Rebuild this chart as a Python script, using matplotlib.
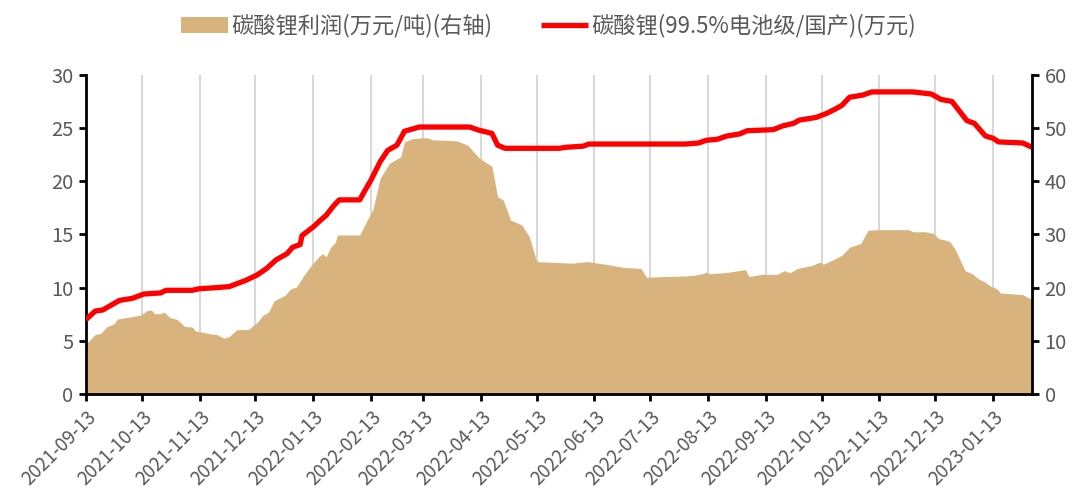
import matplotlib
matplotlib.use("Agg")
import matplotlib.pyplot as plt
import matplotlib.dates as mdates
import pandas as pd

plt.rcParams['font.family'] = ['Noto Sans CJK SC', 'DejaVu Sans']

# lithium carbonate price (万元/吨), read on the right axis
price_dates = ["2021-09-13", "2021-09-18", "2021-09-22", "2021-09-26", "2021-10-01", "2021-10-08",
               "2021-10-14", "2021-10-23", "2021-10-26", "2021-11-09", "2021-11-13", "2021-11-22",
               "2021-11-29", "2021-12-08", "2021-12-14", "2021-12-19", "2021-12-24", "2021-12-30",
               "2022-01-02", "2022-01-06", "2022-01-07", "2022-01-13", "2022-01-17", "2022-01-20",
               "2022-01-24", "2022-01-27", "2022-02-07", "2022-02-10", "2022-02-13", "2022-02-18",
               "2022-02-22", "2022-02-27", "2022-03-03", "2022-03-11", "2022-04-07", "2022-04-12",
               "2022-04-19", "2022-04-22", "2022-04-26", "2022-05-25", "2022-05-29", "2022-06-07",
               "2022-06-10", "2022-06-21", "2022-08-01", "2022-08-08", "2022-08-12", "2022-08-18",
               "2022-08-23", "2022-08-30", "2022-09-03", "2022-09-17", "2022-09-22", "2022-09-28",
               "2022-10-01", "2022-10-10", "2022-10-16", "2022-10-21", "2022-10-24", "2022-10-28",
               "2022-11-04", "2022-11-09", "2022-12-01", "2022-12-11", "2022-12-16", "2022-12-22",
               "2022-12-30", "2023-01-03", "2023-01-09", "2023-01-13", "2023-01-16", "2023-01-29",
               "2023-02-03"]
price = [14.0, 15.6, 15.8, 16.6, 17.6, 18.0, 18.8, 19.0, 19.5, 19.5, 19.8, 20.0,
         20.2, 21.4, 22.4, 23.6, 25.2, 26.4, 27.6, 28.1, 29.8, 31.4, 32.7, 33.6,
         35.4, 36.5, 36.5, 38.4, 40.2, 43.7, 45.8, 46.8, 49.4, 50.2, 50.2, 49.6,
         49.0, 46.8, 46.2, 46.2, 46.4, 46.6, 47.0, 47.0, 47.0, 47.2, 47.7, 47.9,
         48.5, 48.9, 49.5, 49.7, 50.4, 50.9, 51.5, 52.0, 52.8, 53.7, 54.3, 55.8,
         56.2, 56.8, 56.8, 56.4, 55.4, 55.0, 51.4, 50.9, 48.5, 48.1, 47.4, 47.2,
         46.4]

# lithium carbonate profit (万元/吨), read on the left axis
profit_dates = ["2021-09-13", "2021-09-18", "2021-09-21", "2021-09-24", "2021-09-28", "2021-09-30",
                "2021-10-05", "2021-10-12", "2021-10-16", "2021-10-18", "2021-10-20", "2021-10-23",
                "2021-10-25", "2021-10-28", "2021-11-01", "2021-11-05", "2021-11-09", "2021-11-11",
                "2021-11-15", "2021-11-19", "2021-11-22", "2021-11-26", "2021-11-29", "2021-12-03",
                "2021-12-09", "2021-12-14", "2021-12-17", "2021-12-20", "2021-12-23", "2021-12-29",
                "2022-01-01", "2022-01-04", "2022-01-08", "2022-01-12", "2022-01-16", "2022-01-18",
                "2022-01-20", "2022-01-22", "2022-01-25", "2022-01-26", "2022-02-07", "2022-02-11",
                "2022-02-14", "2022-02-18", "2022-02-23", "2022-03-01", "2022-03-03", "2022-03-07",
                "2022-03-15", "2022-03-18", "2022-03-31", "2022-04-06", "2022-04-12", "2022-04-19",
                "2022-04-22", "2022-04-25", "2022-04-29", "2022-05-05", "2022-05-09", "2022-05-13",
                "2022-06-01", "2022-06-09", "2022-06-19", "2022-06-29", "2022-07-08", "2022-07-11",
                "2022-07-18", "2022-08-01", "2022-08-05", "2022-08-10", "2022-08-12", "2022-08-14",
                "2022-08-24", "2022-09-02", "2022-09-04", "2022-09-11", "2022-09-19", "2022-09-23",
                "2022-09-26", "2022-09-30", "2022-10-08", "2022-10-12", "2022-10-14", "2022-10-19",
                "2022-10-24", "2022-10-28", "2022-11-03", "2022-11-07", "2022-11-13", "2022-11-29",
                "2022-12-01", "2022-12-08", "2022-12-12", "2022-12-15", "2022-12-19", "2022-12-21",
                "2022-12-24", "2022-12-29", "2023-01-02", "2023-01-05", "2023-01-09", "2023-01-12",
                "2023-01-15", "2023-01-17", "2023-01-29", "2023-02-03"]
profit = [4.7, 5.6, 5.7, 6.3, 6.6, 7.05, 7.2, 7.4, 7.85, 7.9, 7.55, 7.55,
          7.7, 7.2, 7.0, 6.35, 6.3, 5.9, 5.8, 5.65, 5.6, 5.25, 5.4, 6.05,
          6.05, 6.75, 7.4, 7.7, 8.75, 9.3, 9.9, 10.05, 11.15, 12.1, 12.9, 13.2,
          12.9, 13.7, 14.3, 14.95, 14.95, 16.35, 17.3, 20.3, 21.7, 22.3, 23.7, 24.0,
          24.1, 23.9, 23.8, 23.4, 22.2, 21.4, 18.55, 18.25, 16.35, 15.9, 14.8, 12.45,
          12.3, 12.45, 12.2, 11.9, 11.8, 10.97, 11.03, 11.1, 11.15, 11.3, 11.45, 11.3,
          11.45, 11.7, 11.05, 11.25, 11.25, 11.6, 11.4, 11.8, 12.1, 12.4, 12.2, 12.6,
          13.05, 13.8, 14.15, 15.4, 15.45, 15.45, 15.25, 15.25, 15.1, 14.6, 14.45, 14.3,
          13.5, 11.6, 11.3, 10.85, 10.5, 10.1, 9.9, 9.5, 9.35, 8.85]

tick_dates = ["2021-09-13", "2021-10-13", "2021-11-13", "2021-12-13", "2022-01-13", "2022-02-13",
              "2022-03-13", "2022-04-13", "2022-05-13", "2022-06-13", "2022-07-13", "2022-08-13",
              "2022-09-13", "2022-10-13", "2022-11-13", "2022-12-13", "2023-01-13"]

price_x = pd.to_datetime(price_dates)
profit_x = pd.to_datetime(profit_dates)
ticks = pd.to_datetime(tick_dates)

grey = "#595959"
fig = plt.figure(figsize=(10.8, 4.96), dpi=100)
ax1 = fig.add_axes([0.0796, 0.2056, 0.876, 0.6434])
ax2 = ax1.twinx()

ax1.fill_between(profit_x, profit, 0, color="#D9B37D", linewidth=0, zorder=2,
                 label="碳酸锂利润(万元/吨)(右轴)")
ax2.plot(price_x, price, color="#FF0000", linewidth=3.8, solid_capstyle="butt",
         label="碳酸锂(99.5%电池级/国产)(万元)")

ax1.set_xlim(pd.Timestamp("2021-09-13"), pd.Timestamp("2023-02-03"))
ax1.set_ylim(0, 30)
ax2.set_ylim(0, 60)
ax1.set_yticks(range(0, 31, 5))
ax2.set_yticks(range(0, 61, 10))
ax1.set_xticks(ticks)
ax1.xaxis.set_major_formatter(mdates.DateFormatter("%Y-%m-%d"))
ax1.grid(axis="x", color="#D9D9D9", linewidth=1.5, zorder=0)
ax1.set_axisbelow(True)

for ax in (ax1, ax2):
    ax.spines["top"].set_visible(False)
    for s in ("left", "right", "bottom"):
        ax.spines[s].set_linewidth(2)
        ax.spines[s].set_color("black")
    ax.tick_params(direction="out", length=5, width=2, colors="black",
                   labelcolor=grey, labelsize=14.5, pad=4)
ax1.spines["right"].set_visible(False)
ax2.spines["left"].set_visible(False)
ax2.spines["bottom"].set_visible(False)
plt.setp(ax1.get_xticklabels(), rotation=45, ha="right", rotation_mode="anchor", fontsize=13.5)

h1, l1 = ax1.get_legend_handles_labels()
h2, l2 = ax2.get_legend_handles_labels()
fig.legend(h1 + h2, l1 + l2, loc="center", bbox_to_anchor=(0.508, 0.948), ncol=2,
           frameon=False, fontsize=16, labelcolor=grey, handlelength=2.1,
           columnspacing=2.2, handletextpad=0.15)

fig.savefig("out.png", dpi=100)
